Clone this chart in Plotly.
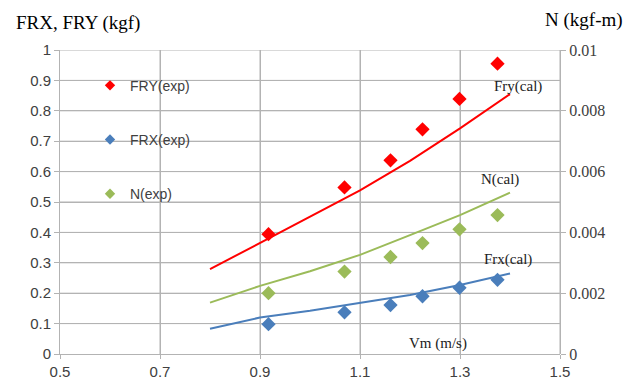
import plotly.graph_objects as go

# experimental data
vm_exp = [0.917, 1.069, 1.161, 1.225, 1.299, 1.375]
fry_exp = [0.394, 0.548, 0.637, 0.739, 0.839, 0.955]
frx_exp = [0.098, 0.137, 0.161, 0.190, 0.218, 0.244]
n_exp = [0.00200, 0.00271, 0.00319, 0.00365, 0.00410, 0.00457]

# calculated curves
vm_cal = [0.8, 0.9, 1.0, 1.1, 1.2, 1.3, 1.4]
fry_cal = [0.279, 0.365, 0.452, 0.538, 0.635, 0.742, 0.855]
frx_cal = [0.083, 0.120, 0.142, 0.167, 0.194, 0.227, 0.265]
n_cal = [0.00169, 0.00224, 0.00272, 0.00326, 0.00391, 0.00457, 0.00531]

# ticks
x_ticks = [0.5, 0.7, 0.9, 1.1, 1.3, 1.5]
y_ticks = [0, 0.1, 0.2, 0.3, 0.4, 0.5, 0.6, 0.7, 0.8, 0.9, 1]
y2_ticks = [0, 0.002, 0.004, 0.006, 0.008, 0.01]

RED = "#ff0000"
BLUE = "#4a7ebb"
GREEN = "#9bbb59"
GRID = "#b3b3b3"
SANS = "Liberation Sans"
SERIF = "Liberation Serif"

fig = go.Figure()
fig.add_trace(go.Scatter(x=vm_cal, y=fry_cal, mode="lines", line=dict(color=RED, width=2), showlegend=False))
fig.add_trace(go.Scatter(x=vm_cal, y=frx_cal, mode="lines", line=dict(color=BLUE, width=2), showlegend=False))
fig.add_trace(go.Scatter(x=vm_cal, y=n_cal, mode="lines", line=dict(color=GREEN, width=2), showlegend=False,
                         xaxis="x2", yaxis="y2"))

fig.add_trace(go.Scatter(x=vm_exp, y=fry_exp, mode="markers", name="FRY(exp)", legendgroup="a", showlegend=False,
                         marker=dict(symbol="diamond", size=11, color=RED)))
fig.add_trace(go.Scatter(x=vm_exp, y=frx_exp, mode="markers", name="FRX(exp)", legendgroup="b", showlegend=False,
                         marker=dict(symbol="diamond", size=11, color=BLUE)))
fig.add_trace(go.Scatter(x=vm_exp, y=n_exp, mode="markers", name="N(exp)", legendgroup="c", showlegend=False,
                         marker=dict(symbol="diamond", size=11, color=GREEN), xaxis="x2", yaxis="y2"))

# legend entries (smaller symbols, as in the reference legend)
for name, col, grp in [("FRY(exp)", RED, "a"), ("FRX(exp)", BLUE, "b"), ("N(exp)", GREEN, "c")]:
    fig.add_trace(go.Scatter(x=[None], y=[None], mode="markers", name=name, legendgroup=grp,
                             marker=dict(symbol="diamond", size=8, color=col)))

# grid lines placed at the axis tick values (through the axes' own scales)
for xv in x_ticks[1:]:
    fig.add_shape(type="line", xref="x", yref="y", x0=xv, x1=xv, y0=y_ticks[0], y1=y_ticks[-1],
                  line=dict(color=GRID, width=1), layer="below")
for yv in y_ticks[1:]:
    fig.add_shape(type="line", xref="x", yref="y", x0=x_ticks[0], x1=x_ticks[-1], y0=yv, y1=yv,
                  line=dict(color=GRID, width=1), layer="below")

def px_to_paper(px, py):
    return (px - 60) / 500, (354 - py) / 304

ax, ay = px_to_paper(78, 23)
bx, by = px_to_paper(584, 20)

axis_common = dict(showgrid=True, gridcolor=GRID, gridwidth=1, zeroline=False,
                   showline=True, linecolor=GRID, linewidth=1, ticks="outside", tickcolor=GRID)

fig.update_layout(
    width=627, height=379,
    margin=dict(l=60, r=67, t=50, b=25, autoexpand=False),
    plot_bgcolor="rgba(0,0,0,0)", paper_bgcolor="white",
    font=dict(family=SANS, size=15, color="#404040"),
    xaxis=dict(range=[x_ticks[0], x_ticks[-1]], tickvals=x_ticks, ticktext=[("%g" % v) for v in x_ticks],
               ticklen=4, tickfont=dict(family=SANS, size=15, color="#404040"), **axis_common),
    yaxis=dict(range=[y_ticks[0], y_ticks[-1]], tickvals=y_ticks, ticktext=[("%g" % v) for v in y_ticks],
               ticklen=5, tickfont=dict(family=SANS, size=15, color="#404040"), **axis_common),
    xaxis2=dict(matches="x", anchor="y2", visible=False, showgrid=False),
    yaxis2=dict(range=[y2_ticks[0], y2_ticks[-1]], tickvals=y2_ticks, ticktext=[("%g" % v) for v in y2_ticks],
                anchor="x2", side="right", showgrid=False, zeroline=False,
                showline=True, linecolor=GRID, ticks="outside", ticklen=5, tickcolor=GRID,
                tickfont=dict(family=SERIF, size=16, color="#404040")),
    legend=dict(x=0.06, y=0.935, xanchor="left", yanchor="top", bgcolor="rgba(0,0,0,0)",
                tracegroupgap=33, font=dict(family=SANS, size=14, color="#404040")),
    annotations=[
        dict(text="FRX, FRY (kgf)", x=ax, y=ay, xref="paper", yref="paper", showarrow=False,
             xanchor="center", yanchor="middle", font=dict(family=SERIF, size=19, color="#000000")),
        dict(text="N (kgf-m)", x=bx, y=by, xref="paper", yref="paper", showarrow=False,
             xanchor="center", yanchor="middle", font=dict(family=SERIF, size=19, color="#000000")),
        dict(text="Fry(cal)", x=1.415, y=0.88, xref="x", yref="y", showarrow=False,
             font=dict(family=SERIF, size=15, color="#222222")),
        dict(text="N(cal)", x=1.38, y=0.575, xref="x", yref="y", showarrow=False,
             font=dict(family=SERIF, size=15, color="#222222")),
        dict(text="Frx(cal)", x=1.395, y=0.31, xref="x", yref="y", showarrow=False,
             font=dict(family=SERIF, size=15, color="#222222")),
        dict(text="Vm (m/s)", x=1.255, y=0.035, xref="x", yref="y", showarrow=False,
             font=dict(family=SERIF, size=15, color="#222222")),
    ],
)

fig.write_html("out.html")
